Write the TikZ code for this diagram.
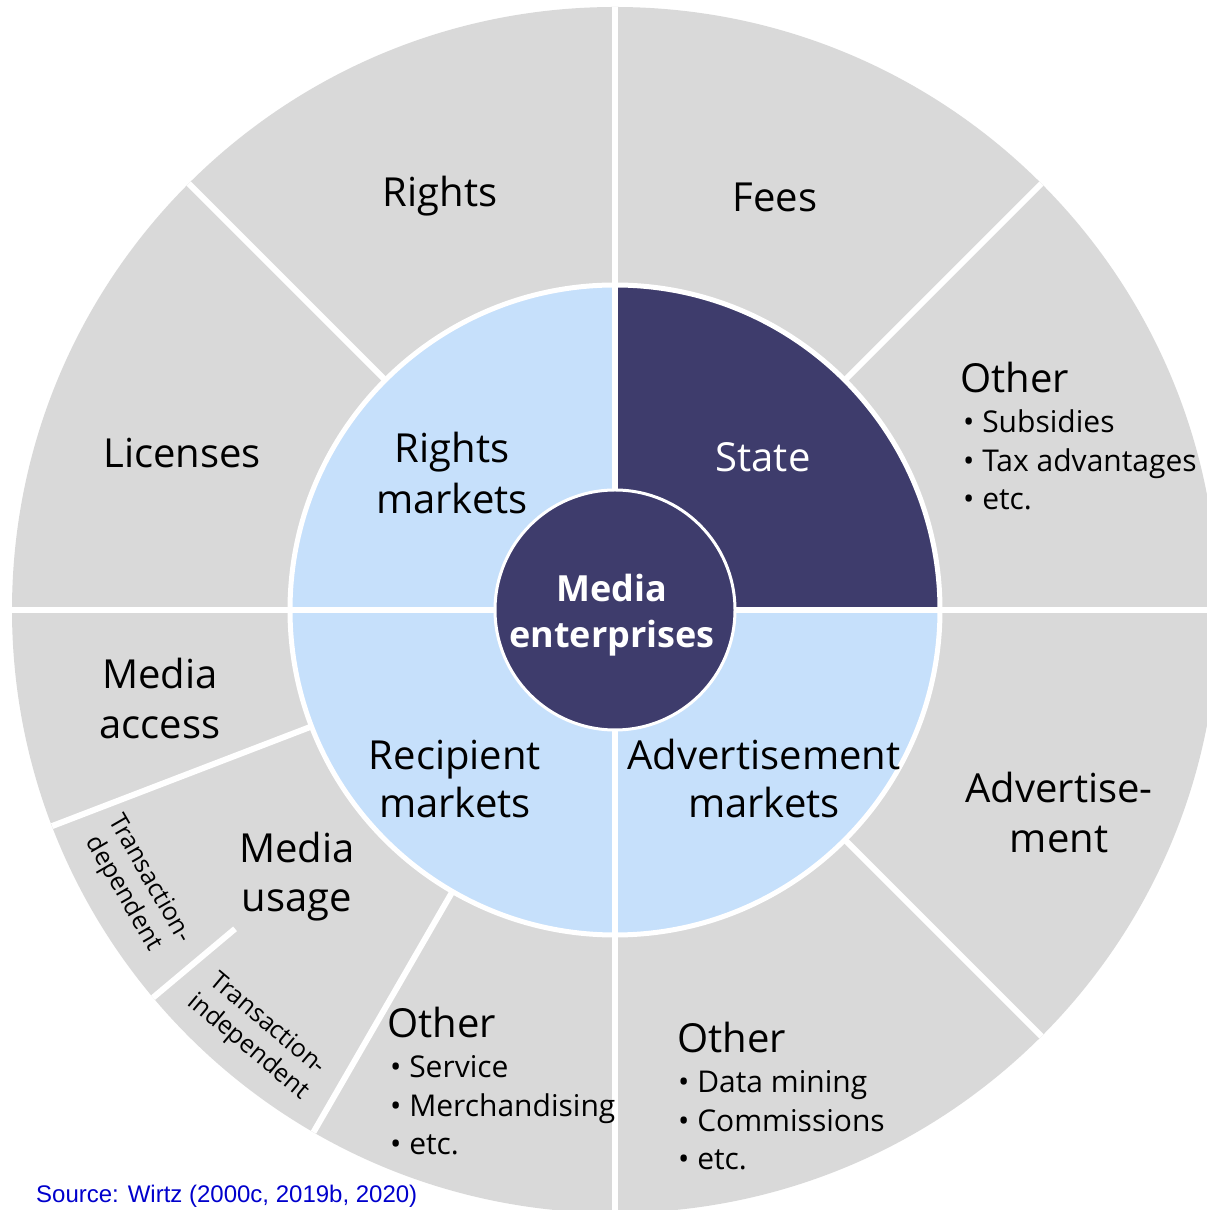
\documentclass[tikz,border=0pt]{standalone}
\usepackage{fontspec}
\setmainfont{Open Sans}
\newfontfamily\srcfont{Liberation Sans}
\usetikzlibrary{calc}
\definecolor{outergray}{HTML}{D9D9D9}
\definecolor{innerblue}{HTML}{C6E0FB}
\definecolor{darkblue}{HTML}{3E3C6C}
\definecolor{srcblue}{HTML}{0000CC}
\begin{document}
\begin{tikzpicture}[x=1pt,y=1pt,
  head/.style={font=\fontsize{40}{51}\selectfont, inner sep=0pt, anchor=base, align=center, text=black},
  itemlist/.style={font=\fontsize{30}{38.5}\selectfont, inner sep=0pt, anchor=base west, align=left},
  tlabel/.style={font=\fontsize{25}{30}\selectfont, inner sep=0pt, align=center},
  sepline/.style={draw=white, line width=6pt},
]
\useasboundingbox (0,0) rectangle (1207,1210);
\clip (0,0) rectangle (1207,1210);
\coordinate (C) at (615,600);
% rings
\fill[outergray] (C) circle (603);
\fill[innerblue] (C) circle (325);
\fill[darkblue] (C) -- ++(0:325) arc (0:90:325) -- cycle;
\draw[white, line width=5pt] (C) circle (325);
\foreach \a in {0,90,180,270} \draw[sepline] (C) -- ++(\a:603);
\foreach \a in {45,135,201,240,315} \draw[sepline] ($(C)+(\a:325)$) -- ($(C)+(\a:603)$);
\draw[sepline] ($(C)+(220:496)$) -- ($(C)+(220:603)$);
\fill[darkblue, draw=white, line width=3pt] (C) circle (120);
% labels (multi-line nodes: base = baseline of last line)
\node[head] (rights) at (440,1003) {Rights};
\node[head] (fees) at (775,998) {Fees};
\node[head] (licenses) at (182,742) {Licenses};
\node[head] (rightsm) at (452,696) {Rights\\markets};
\node[head, text=white] (state) at (763,738) {State};
\node[head, font=\fontsize{36}{46}\selectfont\bfseries, text=white] (media) at (612,562) {Media\\enterprises};
\node[head, font=\fontsize{40}{48}\selectfont] (recip) at (455,392) {Recipient\\markets};
\node[head, font=\fontsize{40}{48}\selectfont] (advm) at (764,392) {Advertisement\\markets};
\node[head, font=\fontsize{40}{50}\selectfont] (adv) at (1059,357) {Advertise-\\ment};
\node[head, font=\fontsize{40}{50}\selectfont] (access) at (160,471) {Media\\access};
\node[head, font=\fontsize{40}{49}\selectfont] (usage) at (297,298) {Media\\usage};
\node[head, anchor=base west] (otherA) at (960,817) {Other};
\node[itemlist] (otherAlist) at (963,700) {• Subsidies\\• Tax advantages\\• etc.};
\node[head, anchor=base west] (otherB) at (387,172) {Other};
\node[itemlist] (otherBlist) at (390,55) {• Service\\• Merchandising\\• etc.};
\node[head, anchor=base west] (otherC) at (677,157) {Other};
\node[itemlist] (otherClist) at (678,40) {• Data mining\\• Commissions\\• etc.};
\node[tlabel, rotate=-60] (tdep) at ($(C)+(210:553)$) {Transaction-\\dependent};
\node[tlabel, rotate=-40] (tindep) at ($(C)+(230:556)$) {Transaction-\\independent};
\node[anchor=base west, inner sep=0pt, font=\srcfont\fontsize{24}{29}\selectfont, text=srcblue] (src) at (36,8) {Source: Wirtz (2000c, 2019b, 2020)};
\end{tikzpicture}
\end{document}
